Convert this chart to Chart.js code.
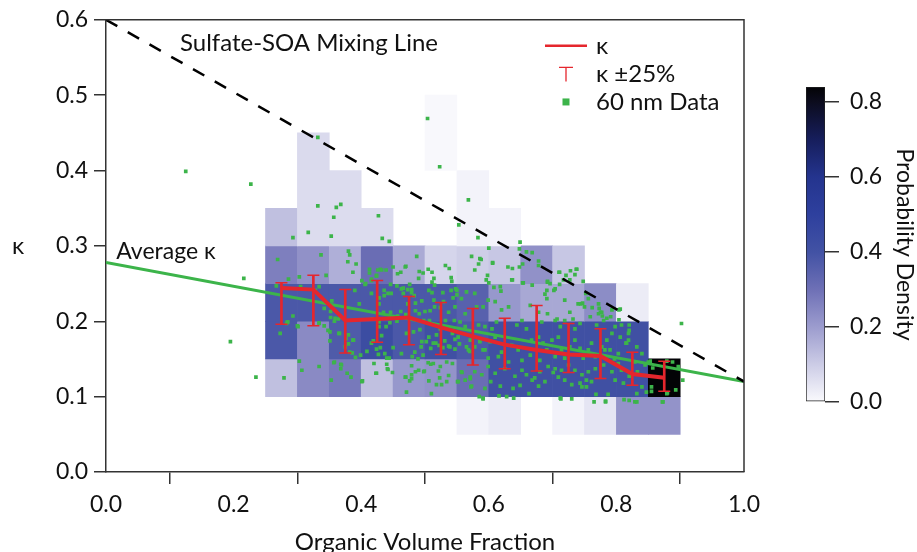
<!DOCTYPE html>
<html>
<head>
<meta charset="utf-8">
<script src="https://cdn.jsdelivr.net/npm/chart.js@4.4.1/dist/chart.umd.min.js"></script>
<style>
  html, body { margin: 0; padding: 0; background: #fff; }
  #wrap { position: relative; width: 917px; height: 552px; }
  #main { position: absolute; left: 0; top: 0; }
  #bar { position: absolute; left: 790px; top: 0; }
</style>
</head>
<body>
<div id="wrap">
  <canvas id="main" width="917" height="552"></canvas>
  <canvas id="bar" width="127" height="552"></canvas>
</div>
<script>
// histogram bins (organic volume fraction / kappa)
const ovfEdges = [0.25, 0.30, 0.35, 0.40, 0.45, 0.50, 0.55, 0.60, 0.65, 0.70, 0.75, 0.80, 0.85, 0.90];
const kappaEdges = [0.05, 0.10, 0.15, 0.20, 0.25, 0.30, 0.35, 0.40, 0.45, 0.50];
// probability density, one row per kappa bin (bottom to top), one column per ovf bin
const density = [
  [0, 0, 0, 0, 0, 0, 0.015, 0.03, 0, 0.015, 0.045, 0.22, 0.22],
  [0.125, 0.24, 0.28, 0.125, 0.21, 0.22, 0.31, 0.41, 0.41, 0.41, 0.41, 0.41, 0.84],
  [0.38, 0.24, 0.37, 0.43, 0.38, 0.41, 0.38, 0.41, 0.41, 0.41, 0.41, 0.41, 0],
  [0.38, 0.38, 0.38, 0.38, 0.38, 0.38, 0.35, 0.21, 0.175, 0.175, 0.235, 0.03, 0],
  [0.265, 0.225, 0.16, 0.31, 0.17, 0.08, 0.095, 0.11, 0.225, 0.11, 0, 0, 0],
  [0.125, 0.065, 0.065, 0.065, 0, 0, 0.015, 0.015, 0, 0, 0, 0, 0],
  [0, 0.065, 0.065, 0, 0, 0, 0.015, 0, 0, 0, 0, 0, 0],
  [0, 0.07, 0, 0, 0, 0.005, 0, 0, 0, 0, 0, 0, 0],
  [0, 0, 0, 0, 0, 0.005, 0, 0, 0, 0, 0, 0, 0]
];

// binned kappa with error bars
const kappaMean = [0.244, 0.242, 0.201, 0.203, 0.205, 0.192, 0.180, 0.169, 0.162, 0.156, 0.154, 0.130, 0.125];
const kappaHigh = [0.251, 0.261, 0.242, 0.254, 0.233, 0.225, 0.217, 0.204, 0.221, 0.197, 0.190, 0.159, 0.147];
const kappaLow  = [0.196, 0.194, 0.158, 0.172, 0.169, 0.156, 0.142, 0.137, 0.134, 0.132, 0.124, 0.115, 0.107];

// reference lines
const mixingLine = [[0, 0.6], [1, 0.12]];
const averageLine = [[0, 0.278], [1, 0.12]];

// 60 nm data [ovf, kappa]
const nm60Points = [
  [0.125,0.399],[0.227,0.382],[0.216,0.257],[0.195,0.173],[0.235,0.126],[0.279,0.125],[0.332,0.444],[0.504,0.469],
  [0.523,0.405],[0.568,0.361],[0.553,0.328],[0.902,0.197],[0.904,0.122],
  [0.293,0.311],[0.269,0.282],[0.273,0.184],[0.293,0.207],[0.284,0.199],[0.267,0.247],[0.332,0.353],[0.361,0.351],
  [0.368,0.355],[0.357,0.338],[0.317,0.318],[0.353,0.313],[0.427,0.340],[0.433,0.310],[0.444,0.306],[0.337,0.288],
  [0.380,0.293],[0.382,0.288],[0.379,0.279],[0.392,0.276],[0.387,0.265],[0.345,0.261],[0.303,0.259],[0.286,0.256],
  [0.334,0.246],[0.305,0.246],
  [0.583,0.311],[0.573,0.286],[0.578,0.268],[0.586,0.283],[0.600,0.297],[0.487,0.286],[0.470,0.273],[0.462,0.265],
  [0.413,0.269],[0.416,0.254],[0.450,0.272],[0.491,0.266],[0.497,0.264],[0.511,0.265],[0.514,0.257],[0.532,0.274],
  [0.538,0.270],[0.541,0.258],[0.430,0.269],[0.439,0.268],[0.424,0.261],[0.406,0.249],[0.447,0.237],[0.436,0.234],
  [0.466,0.244],[0.473,0.242],[0.479,0.238],
  [0.283,0.197],[0.301,0.193],[0.334,0.197],[0.342,0.194],[0.351,0.186],[0.365,0.184],[0.351,0.174],[0.342,0.217],
  [0.352,0.213],[0.359,0.204],[0.367,0.205],[0.388,0.175],[0.380,0.170],[0.386,0.158],[0.399,0.155],[0.409,0.160],
  [0.419,0.174],[0.432,0.181],[0.439,0.193],[0.428,0.193],[0.427,0.156],[0.437,0.157],[0.444,0.151],[0.450,0.165],
  [0.463,0.157],[0.471,0.184],[0.482,0.186],[0.492,0.189],[0.495,0.173],[0.506,0.179],[0.513,0.171],[0.522,0.168],
  [0.531,0.174],[0.539,0.166],[0.547,0.163],[0.554,0.170],[0.565,0.166],[0.570,0.160],[0.586,0.173],[0.591,0.162],
  [0.303,0.147],[0.307,0.135],[0.334,0.140],[0.353,0.122],[0.358,0.146],[0.368,0.143],[0.368,0.137],[0.378,0.131],
  [0.384,0.126],[0.402,0.121],[0.420,0.144],[0.424,0.131],[0.440,0.143],[0.442,0.136],[0.449,0.132],[0.469,0.126],
  [0.476,0.121],[0.471,0.106],[0.479,0.129],[0.485,0.133],[0.498,0.133],[0.506,0.121],[0.509,0.143],[0.521,0.134],
  [0.523,0.125],[0.526,0.116],[0.537,0.128],[0.551,0.120],[0.558,0.132],[0.571,0.124],[0.572,0.113],[0.585,0.100],
  [0.591,0.098],[0.510,0.104],
  [0.413,0.264],[0.426,0.268],[0.432,0.268],[0.457,0.263],[0.469,0.272],[0.490,0.257],[0.505,0.269],[0.511,0.252],
  [0.515,0.248],[0.542,0.253],[0.416,0.256],[0.407,0.250],[0.401,0.254],[0.424,0.260],[0.390,0.241],[0.397,0.223],
  [0.416,0.237],[0.428,0.231],[0.428,0.223],[0.436,0.241],[0.442,0.237],[0.446,0.249],[0.456,0.247],[0.463,0.243],
  [0.466,0.237],[0.476,0.249],[0.479,0.242],[0.483,0.234],[0.485,0.224],[0.485,0.214],[0.473,0.223],[0.462,0.213],
  [0.470,0.209],[0.457,0.207],[0.446,0.212],[0.435,0.212],[0.417,0.203],[0.428,0.199],[0.445,0.198],[0.456,0.200],
  [0.495,0.227],[0.500,0.213],[0.491,0.210],[0.498,0.201],[0.507,0.201],[0.508,0.214],[0.515,0.219],[0.514,0.228],
  [0.524,0.218],[0.529,0.226],[0.528,0.238],[0.511,0.238],[0.506,0.241],[0.541,0.241],[0.548,0.243],[0.550,0.235],
  [0.544,0.231],[0.547,0.219],[0.537,0.212],[0.546,0.201],[0.532,0.201],[0.524,0.190],[0.518,0.182],[0.543,0.184],
  [0.547,0.176],[0.537,0.167],[0.528,0.165],[0.517,0.171],[0.509,0.164],[0.502,0.173],[0.494,0.166],[0.484,0.159],
  [0.480,0.153],[0.489,0.150],[0.497,0.155],[0.505,0.145],[0.513,0.144],[0.524,0.140],[0.534,0.146],[0.543,0.144],
  [0.534,0.120],[0.518,0.116],[0.479,0.141],[0.490,0.135],[0.499,0.134],[0.470,0.126],[0.479,0.124],[0.441,0.137],
  [0.423,0.131],[0.401,0.120],[0.369,0.142],[0.357,0.145],
  [0.440,0.151],[0.430,0.165],[0.424,0.163],[0.416,0.171],[0.391,0.152],[0.387,0.175],[0.380,0.182],[0.376,0.177],
  [0.382,0.159],[0.375,0.166],[0.366,0.184],[0.348,0.188],[0.358,0.200],[0.352,0.205],[0.354,0.227],[0.334,0.198],
  [0.364,0.203],[0.285,0.199],[0.300,0.194],[0.328,0.241],
  [0.649,0.305],[0.648,0.296],[0.659,0.292],[0.668,0.291],[0.588,0.282],[0.584,0.276],[0.606,0.277],[0.637,0.270],
  [0.648,0.272],[0.653,0.276],[0.678,0.280],[0.678,0.274],[0.598,0.261],[0.596,0.255],[0.600,0.251],[0.636,0.255],
  [0.653,0.251],[0.668,0.248],[0.692,0.252],[0.696,0.250],[0.702,0.241],[0.691,0.241],[0.688,0.236],[0.691,0.230],
  [0.711,0.265],[0.721,0.261],[0.728,0.267],[0.735,0.262],[0.737,0.269],[0.727,0.255],[0.717,0.255],[0.748,0.253],
  [0.719,0.228],[0.727,0.212],[0.747,0.224],[0.740,0.223],[0.750,0.219],[0.762,0.218],[0.759,0.206],[0.772,0.210],
  [0.777,0.212],[0.773,0.217],[0.791,0.206],[0.780,0.201],[0.769,0.195],[0.804,0.215],[0.798,0.193],[0.808,0.195],
  [0.820,0.195],[0.820,0.188],[0.816,0.171],[0.803,0.157],[0.790,0.162],[0.782,0.162],[0.797,0.150],[0.803,0.144],
  [0.793,0.133],[0.798,0.122],[0.811,0.118],[0.820,0.095],[0.829,0.093],[0.832,0.104],[0.840,0.113],[0.847,0.106],
  [0.855,0.113],[0.893,0.109],[0.873,0.093],[0.879,0.104],[0.850,0.146],[0.888,0.146],[0.833,0.133],[0.820,0.127],
  [0.808,0.135],[0.783,0.093],[0.765,0.093],[0.787,0.103],[0.768,0.103],[0.753,0.113],[0.746,0.113],[0.761,0.120],
  [0.730,0.097],[0.713,0.097],[0.730,0.116],[0.719,0.122],[0.709,0.126],[0.701,0.132],[0.688,0.120],[0.678,0.114],
  [0.668,0.122],[0.663,0.104],[0.649,0.115],[0.638,0.111],[0.628,0.100],[0.639,0.098],[0.616,0.101],[0.591,0.097],
  [0.618,0.114],[0.603,0.120],[0.594,0.111],[0.573,0.114],[0.571,0.126],[0.563,0.122],[0.552,0.120],[0.557,0.133],
  [0.578,0.133],[0.589,0.129],[0.599,0.140],[0.610,0.131],[0.625,0.137],[0.641,0.127],[0.652,0.135],[0.659,0.129],
  [0.672,0.125],[0.680,0.133],[0.693,0.140],[0.704,0.137],[0.714,0.135],[0.725,0.142],[0.735,0.135],[0.746,0.129],
  [0.756,0.133],[0.767,0.137],[0.780,0.142],[0.743,0.118],[0.753,0.122],
  [0.552,0.179],[0.563,0.193],[0.571,0.175],[0.568,0.162],[0.578,0.166],[0.586,0.175],[0.594,0.162],[0.602,0.173],
  [0.610,0.179],[0.599,0.151],[0.615,0.153],[0.620,0.159],[0.636,0.168],[0.646,0.162],[0.631,0.146],[0.652,0.148],
  [0.665,0.155],[0.667,0.175],[0.678,0.179],[0.685,0.171],[0.691,0.162],[0.680,0.148],[0.699,0.175],[0.709,0.179],
  [0.714,0.162],[0.704,0.153],[0.719,0.151],[0.727,0.166],[0.735,0.175],[0.743,0.164],[0.748,0.151],[0.756,0.162],
  [0.761,0.171],[0.767,0.153],[0.777,0.166],[0.785,0.175],[0.793,0.184],[0.806,0.179],[0.819,0.175],[0.832,0.166],
  [0.840,0.157],[0.829,0.146],[0.845,0.142],
  [0.550,0.241],[0.557,0.230],[0.565,0.239],[0.578,0.237],[0.581,0.219],[0.563,0.210],[0.555,0.199],[0.591,0.219],
  [0.599,0.228],[0.610,0.226],[0.620,0.215],[0.631,0.219],[0.612,0.199],[0.605,0.190],[0.594,0.193],[0.584,0.195],
  [0.665,0.221],[0.678,0.212],[0.683,0.199],[0.652,0.201],[0.644,0.195],[0.659,0.190],[0.704,0.201],[0.712,0.193],
  [0.719,0.201],[0.735,0.190],[0.743,0.197],
  [0.710,0.265],[0.738,0.269],[0.711,0.249],[0.704,0.243],[0.692,0.253],[0.732,0.203],[0.744,0.223],[0.752,0.237],
  [0.756,0.230],[0.772,0.223],[0.775,0.212],[0.785,0.204],[0.793,0.215],[0.806,0.216],[0.804,0.202],[0.819,0.184],
  [0.815,0.171],[0.778,0.207],[0.606,0.278],[0.618,0.246],[0.608,0.245],[0.619,0.240],[0.630,0.272],[0.637,0.255],
  [0.654,0.251],[0.692,0.210],[0.707,0.203],[0.812,0.096],[0.832,0.093],[0.783,0.094],[0.712,0.098],[0.872,0.093],
  [0.855,0.107],[0.880,0.105],[0.853,0.147],[0.879,0.147],[0.857,0.138],[0.897,0.140]
];

// colour scale of the density image
const colorStops = [
  [0.00, 250, 250, 253], [0.10, 204, 204, 230], [0.20, 156, 156, 206], [0.30, 110, 112, 182],
  [0.40, 66, 82, 164], [0.50, 46, 64, 158], [0.60, 36, 52, 142], [0.70, 22, 30, 92],
  [0.80, 12, 12, 30], [0.84, 3, 3, 6]
];
const densityMax = 0.84;

function densityColor(d) {
  for (let i = 1; i < colorStops.length; i++) {
    const a = colorStops[i - 1], b = colorStops[i];
    if (d <= b[0]) {
      const t = (d - a[0]) / (b[0] - a[0]);
      const c = [1, 2, 3].map(k => Math.round(a[k] + (b[k] - a[k]) * t));
      return 'rgb(' + c.join(',') + ')';
    }
  }
  const l = colorStops[colorStops.length - 1];
  return 'rgb(' + l[1] + ',' + l[2] + ',' + l[3] + ')';
}

const r3 = v => Math.round(v * 1000) / 1000;
const binCenters = ovfEdges.slice(0, -1).map((e, i) => r3((e + ovfEdges[i + 1]) / 2));

const cells = [], cellColors = [];
density.forEach((row, j) => {
  row.forEach((d, i) => {
    if (d <= 0) return;
    cells.push({ x: binCenters[i], y: [kappaEdges[j], kappaEdges[j + 1]] });
    cellColors.push(densityColor(d));
  });
});

const RED = '#e5262d';
const GREEN = '#3cb44a';
const FONT = 'Lato';
Chart.defaults.font.family = FONT;
Chart.defaults.color = '#111';

const overlay = {
  id: 'overlay',
  afterDatasetsDraw(chart) {
    const { ctx, chartArea: a, scales: { x, y } } = chart;
    ctx.save();
    ctx.strokeStyle = '#333';
    ctx.lineWidth = 1.5;
    ctx.beginPath();
    ctx.moveTo(a.left, a.top);
    ctx.lineTo(a.right, a.top);
    ctx.lineTo(a.right, a.bottom);
    ctx.stroke();

    ctx.fillStyle = '#111';
    ctx.font = '24px ' + FONT;
    ctx.textBaseline = 'alphabetic';
    ctx.textAlign = 'left';
    ctx.fillText('Sulfate-SOA Mixing Line', x.getPixelForValue(0.116), y.getPixelForValue(0.558));
    ctx.font = '23px ' + FONT;
    ctx.fillText('Average κ', x.getPixelForValue(0.016), y.getPixelForValue(0.283));

    // legend
    ctx.font = '24px ' + FONT;
    const lx = x.getPixelForValue(0.721), tx = x.getPixelForValue(0.768);
    ctx.fillText('κ', tx, y.getPixelForValue(0.555));
    ctx.fillText('κ ±25%', tx, y.getPixelForValue(0.517));
    ctx.fillText('60 nm Data', tx, y.getPixelForValue(0.480));
    ctx.strokeStyle = RED;
    ctx.lineWidth = 2.5;
    ctx.beginPath();
    ctx.moveTo(lx - 21, y.getPixelForValue(0.5656));
    ctx.lineTo(lx + 21, y.getPixelForValue(0.5656));
    ctx.stroke();
    ctx.lineWidth = 1.3;
    const cy = y.getPixelForValue(0.537);
    ctx.beginPath();
    ctx.moveTo(lx - 7, cy); ctx.lineTo(lx + 7, cy);
    ctx.moveTo(lx, cy); ctx.lineTo(lx, y.getPixelForValue(0.518));
    ctx.stroke();
    ctx.fillStyle = GREEN;
    const sy = y.getPixelForValue(0.491);
    ctx.fillRect(lx - 3.5, sy - 3.5, 7, 7);

    // y axis title
    ctx.fillStyle = '#111';
    ctx.textAlign = 'center';
    ctx.textBaseline = 'middle';
    ctx.font = '24px ' + FONT;
    ctx.fillText('κ', 18, (a.top + a.bottom) / 2);
    ctx.restore();
  }
};

function axisStyle() {
  return {
    grid: { drawOnChartArea: false, drawTicks: true, tickLength: 12, color: '#333', lineWidth: 1.5 },
    border: { display: true, color: '#333', width: 1.5 }
  };
}

function draw() {
  new Chart(document.getElementById('main'), {
    type: 'scatter',
    data: {
      datasets: [
        {
          type: 'line', order: 0,
          data: binCenters.map((c, i) => ({ x: c, y: kappaMean[i] })),
          borderColor: RED, borderWidth: 4, pointRadius: 0, tension: 0
        },
        {
          type: 'scatter', order: 1,
          data: binCenters.map((c, i) => ({ x: c, y: kappaHigh[i] })),
          pointStyle: 'line', radius: 6, borderColor: RED, borderWidth: 1.5
        },
        {
          type: 'scatter', order: 1,
          data: binCenters.map((c, i) => ({ x: c, y: kappaLow[i] })),
          pointStyle: 'line', radius: 6, borderColor: RED, borderWidth: 1.5
        },
        {
          type: 'bar', order: 1,
          data: binCenters.map((c, i) => ({ x: c, y: [kappaLow[i], kappaHigh[i]] })),
          backgroundColor: RED, barThickness: 2, grouped: false, borderWidth: 0
        },
        {
          type: 'line', order: 2,
          data: mixingLine.map(p => ({ x: p[0], y: p[1] })),
          borderColor: '#000', borderWidth: 2.5, borderDash: [13, 12], pointRadius: 0
        },
        {
          type: 'line', order: 3,
          data: averageLine.map(p => ({ x: p[0], y: p[1] })),
          borderColor: GREEN, borderWidth: 3, pointRadius: 0
        },
        {
          type: 'scatter', order: 4,
          data: nm60Points.map(p => ({ x: p[0], y: p[1] })),
          pointStyle: 'rect', radius: 2.6, backgroundColor: GREEN, borderWidth: 0
        },
        {
          type: 'bar', order: 5,
          data: cells,
          backgroundColor: cellColors, borderWidth: 0,
          grouped: false, categoryPercentage: 1, barPercentage: 1
        }
      ]
    },
    options: {
      responsive: false, animation: false, events: [],
      layout: { padding: { left: 0, top: 19, right: 173, bottom: 0 } },
      plugins: { legend: { display: false }, tooltip: { enabled: false } },
      scales: {
        x: Object.assign(axisStyle(), {
          type: 'linear', min: 0, max: 1, offset: false,
          ticks: { stepSize: 0.2, padding: 7, font: { size: 23 }, maxRotation: 0, autoSkip: false,
                   callback: v => v.toFixed(1) },
          title: { display: true, text: 'Organic Volume Fraction', font: { size: 24, lineHeight: 0.85 }, padding: 0 },
          afterFit: s => { s.height = 80; }
        }),
        y: Object.assign(axisStyle(), {
          type: 'linear', min: 0, max: 0.6,
          ticks: { stepSize: 0.1, padding: 6, font: { size: 23 }, callback: v => v.toFixed(1) },
          afterFit: s => { s.width = 106; }
        })
      }
    },
    plugins: [overlay]
  });

  new Chart(document.getElementById('bar'), {
    type: 'bar',
    data: {
      labels: ['density'],
      datasets: [{
        data: [[0, densityMax]],
        categoryPercentage: 1, barPercentage: 1,
        borderColor: '#222', borderWidth: 1, borderSkipped: false,
        backgroundColor: (ctx) => {
          const c = ctx.chart;
          if (!c.chartArea) return '#fff';
          const ys = c.scales.y;
          const g = c.ctx.createLinearGradient(0, ys.getPixelForValue(0), 0, ys.getPixelForValue(densityMax));
          colorStops.forEach(s => g.addColorStop(s[0] / densityMax, 'rgb(' + s[1] + ',' + s[2] + ',' + s[3] + ')'));
          return g;
        }
      }]
    },
    options: {
      responsive: false, animation: false, events: [],
      layout: { padding: { left: 16, top: 87, right: 0, bottom: 150 } },
      plugins: { legend: { display: false }, tooltip: { enabled: false } },
      scales: {
        x: { display: false },
        y: {
          position: 'right', min: 0, max: densityMax,
          ticks: { stepSize: 0.2, includeBounds: false, padding: 11, font: { size: 23 },
                   callback: v => v.toFixed(1) },
          grid: { drawOnChartArea: false, drawTicks: true, tickLength: 14, color: '#333', lineWidth: 1.5 },
          border: { display: false },
          title: { display: true, text: 'Probability Density', font: { size: 23, lineHeight: 1 }, padding: 1 },
          afterFit: s => { s.width = 92; }
        }
      }
    }
  });
}

if (document.fonts && document.fonts.load) {
  document.fonts.load('24px ' + FONT).then(draw, draw);
} else {
  draw();
}
</script>
</body>
</html>
